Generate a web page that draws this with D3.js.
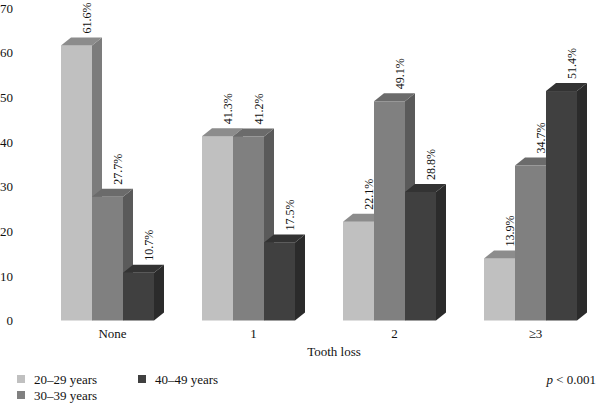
<!DOCTYPE html>
<html>
<head>
<meta charset="utf-8">
<script src="https://cdn.jsdelivr.net/npm/d3@7"></script>
<style>
  body { margin: 0; background: #fff; }
  svg text { font-family: "Liberation Serif", "DejaVu Serif", serif; fill: #111; }
</style>
</head>
<body>
<div id="chart"></div>
<script>
(function () {
    "use strict";

    var categories = ['None', '1', '2', '\u22653'];
    var seriesNames = ['20\u201329 years', '30\u201339 years', '40\u201349 years'];
    // one row per age group, one value per tooth loss category
    var young = [61.6, 41.3, 22.1, 13.9];
    var middle = [27.7, 41.2, 49.1, 34.7];
    var older = [10.7, 17.5, 28.8, 51.4];
    var yTicks = [0, 10, 20, 30, 40, 50, 60, 70];

    var series = [young, middle, older];
    var front = ['#c0c0c0', '#808080', '#404040'],
        side = ['#7c7c7c', '#5a5a5a', '#2b2b2b'],
        top = ['#8c8c8c', '#6b6b6b', '#333333'];

    var width = 600, height = 403;
    var dx = 10, dy = 8; // 3d depth

    var svg = d3.select('#chart').append('svg')
        .attr('width', width).attr('height', height);

    var x0 = d3.scaleBand().domain(categories).range([42, 606]);
    var x1 = d3.scaleBand().domain(d3.range(3)).range([0, 93]);
    var y = d3.scaleLinear().domain([0, 70]).range([320.5, 8]);

    // y tick labels (no axis line)
    var yAxis = svg.append('g')
        .attr('transform', 'translate(13,0)')
        .call(d3.axisLeft(y).tickValues(yTicks).tickSize(0).tickPadding(0));
    yAxis.select('.domain').remove();
    yAxis.selectAll('text')
        .style('font-family', '"Liberation Serif", serif')
        .style('font-size', '13px')
        .attr('fill', '#111');

    var groupOff = (x0.bandwidth() - 93 - dx) / 2;

    categories.forEach(function (c, ci) {
        var g = svg.append('g')
            .attr('transform', 'translate(' + (x0(c) + groupOff) + ',0)');
        series.forEach(function (vals, si) {
            var bx = x1(si), bw = x1.bandwidth(),
                by = y(vals[ci]), b0 = y(0);
            // front
            g.append('rect')
                .attr('x', bx).attr('y', by)
                .attr('width', bw).attr('height', b0 - by)
                .attr('fill', front[si]);
            // side
            g.append('path')
                .attr('d', 'M' + (bx + bw) + ',' + by + 'L' + (bx + bw + dx) + ',' + (by - dy) +
                    'L' + (bx + bw + dx) + ',' + (b0 - dy) + 'L' + (bx + bw) + ',' + b0 + 'Z')
                .attr('fill', side[si]);
            // top
            g.append('path')
                .attr('d', 'M' + bx + ',' + by + 'L' + (bx + dx) + ',' + (by - dy) +
                    'L' + (bx + bw + dx) + ',' + (by - dy) + 'L' + (bx + bw) + ',' + by + 'Z')
                .attr('fill', top[si]);
        });
        // value labels on top
        series.forEach(function (vals, si) {
            var lx = x1(si) + x1.bandwidth() / 2 + dx,
                ly = y(vals[ci]) - dy - 4;
            g.append('text')
                .attr('transform', 'translate(' + (lx + 4) + ',' + ly + ') rotate(-90)')
                .style('font-size', '12px')
                .text(vals[ci].toFixed(1) + '%');
        });
        // category label
        svg.append('text')
            .attr('x', x0(c) + x0.bandwidth() / 2)
            .attr('y', 338)
            .attr('text-anchor', 'middle')
            .style('font-size', '13px')
            .text(c);
    });

    svg.append('text')
        .attr('x', 334).attr('y', 356)
        .attr('text-anchor', 'middle')
        .style('font-size', '13px')
        .text('Tooth loss');

    // legend
    var legendPos = [[17, 379], [17, 395], [138, 379]];
    seriesNames.forEach(function (name, i) {
        var lg = svg.append('g')
            .attr('transform', 'translate(' + legendPos[i][0] + ',' + legendPos[i][1] + ')');
        lg.append('rect').attr('x', 0).attr('y', -4).attr('width', 8).attr('height', 8)
            .attr('fill', front[i]);
        lg.append('text').attr('x', 17).attr('y', 4.5)
            .style('font-size', '13px').text(name);
    });

    var pt = svg.append('text')
        .attr('x', 596).attr('y', 384)
        .attr('text-anchor', 'end')
        .style('font-size', '13px');
    pt.append('tspan').style('font-style', 'italic').text('p');
    pt.append('tspan').text(' < 0.001');
}());
</script>
</body>
</html>
